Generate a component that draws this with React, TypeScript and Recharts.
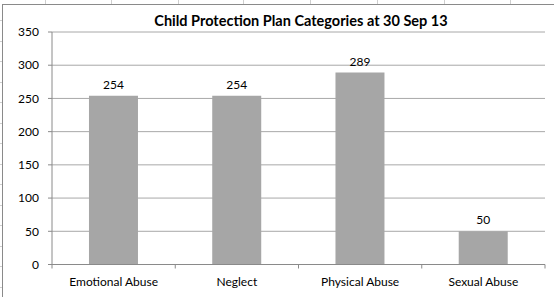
import React from "react";
import { BarChart, Bar, XAxis, YAxis, CartesianGrid, LabelList } from "recharts";

const categories = ["Emotional Abuse", "Neglect", "Physical Abuse", "Sexual Abuse"];
const counts = [254, 254, 289, 50];
const yTicks = [0, 50, 100, 150, 200, 250, 300, 350];
const title = "Child Protection Plan Categories at 30 Sep 13";

const data = categories.map((c, i) => ({ name: c, value: counts[i] }));

const FONT = "Lato, 'Open Sans', sans-serif";
const AXIS = "#8a8a8a";

const sheetCols = [45, 111, 178, 243, 310, 377, 444, 510];
const sheetRows = Array.from({ length: 14 }, (_, i) => 20 + i * 20.5);

const XTick = (props: any) => {
  const { x, y, payload, index, visibleTicksCount } = props;
  const off = payload.offset || 0;
  return (
    <g>
      <line x1={x - off} x2={x - off} y1={y} y2={y + 4} stroke={AXIS} />
      {index === visibleTicksCount - 1 && (
        <line x1={x + off} x2={x + off} y1={y} y2={y + 4} stroke={AXIS} />
      )}
      <text x={x} y={y + 21} textAnchor="middle" fontSize={12} fill="#000" fontFamily={FONT}>
        {payload.value}
      </text>
    </g>
  );
};

export default function App() {
  return (
    <div style={{ position: "absolute", left: 0, top: 0, width: 554, height: 297, background: "#fff", overflow: "hidden" }}>
      {sheetCols.map((x) => (
        <div key={"c" + x} style={{ position: "absolute", left: x, top: 0, width: 1, height: 4, background: "#cfcfcf" }} />
      ))}
      {sheetRows.map((y) => (
        <div key={"r" + y} style={{ position: "absolute", left: 0, top: y, width: 2, height: 1, background: "#cfcfcf" }} />
      ))}
      <div
        style={{
          position: "absolute",
          left: 2,
          top: 4,
          width: 560,
          height: 300,
          borderLeft: "1px solid #8a8a8a",
          borderTop: "1px solid #8a8a8a",
        }}
      />
      <div
        style={{
          position: "absolute",
          left: 0,
          top: 12,
          width: 554,
          textAlign: "center",
          fontFamily: FONT,
          fontWeight: "bold",
          fontSize: 14.5,
          paddingLeft: 48,
          boxSizing: "border-box",
          color: "#000",
          lineHeight: "17px",
        }}
      >
        {title}
      </div>
      <div style={{ position: "absolute", left: 0, top: 0 }}>
        <BarChart
          width={554}
          height={297}
          data={data}
          margin={{ top: 32, right: 9, left: 0, bottom: 0 }}
          barCategoryGap="30%"
        >
          <CartesianGrid vertical={false} stroke="#a8a8a8" strokeWidth={1} />
          <XAxis
            dataKey="name"
            axisLine={{ stroke: AXIS }}
            tickLine={false}
            tick={<XTick />}
            tickSize={0}
            tickMargin={0}
            interval={0}
            height={32.5}
          />
          <YAxis
            width={52}
            domain={[0, 350]}
            ticks={yTicks}
            axisLine={{ stroke: AXIS }}
            tickLine={{ stroke: AXIS }}
            tickSize={4}
            tickMargin={9}
            tick={{ fontSize: 12, fill: "#000", fontFamily: FONT }}
            interval={0}
          />
          <Bar dataKey="value" fill="#a6a6a6" isAnimationActive={false}>
            <LabelList
              dataKey="value"
              position="top"
              offset={7}
              style={{ fontSize: 12, fill: "#000", fontFamily: FONT }}
            />
          </Bar>
        </BarChart>
      </div>
    </div>
  );
}
